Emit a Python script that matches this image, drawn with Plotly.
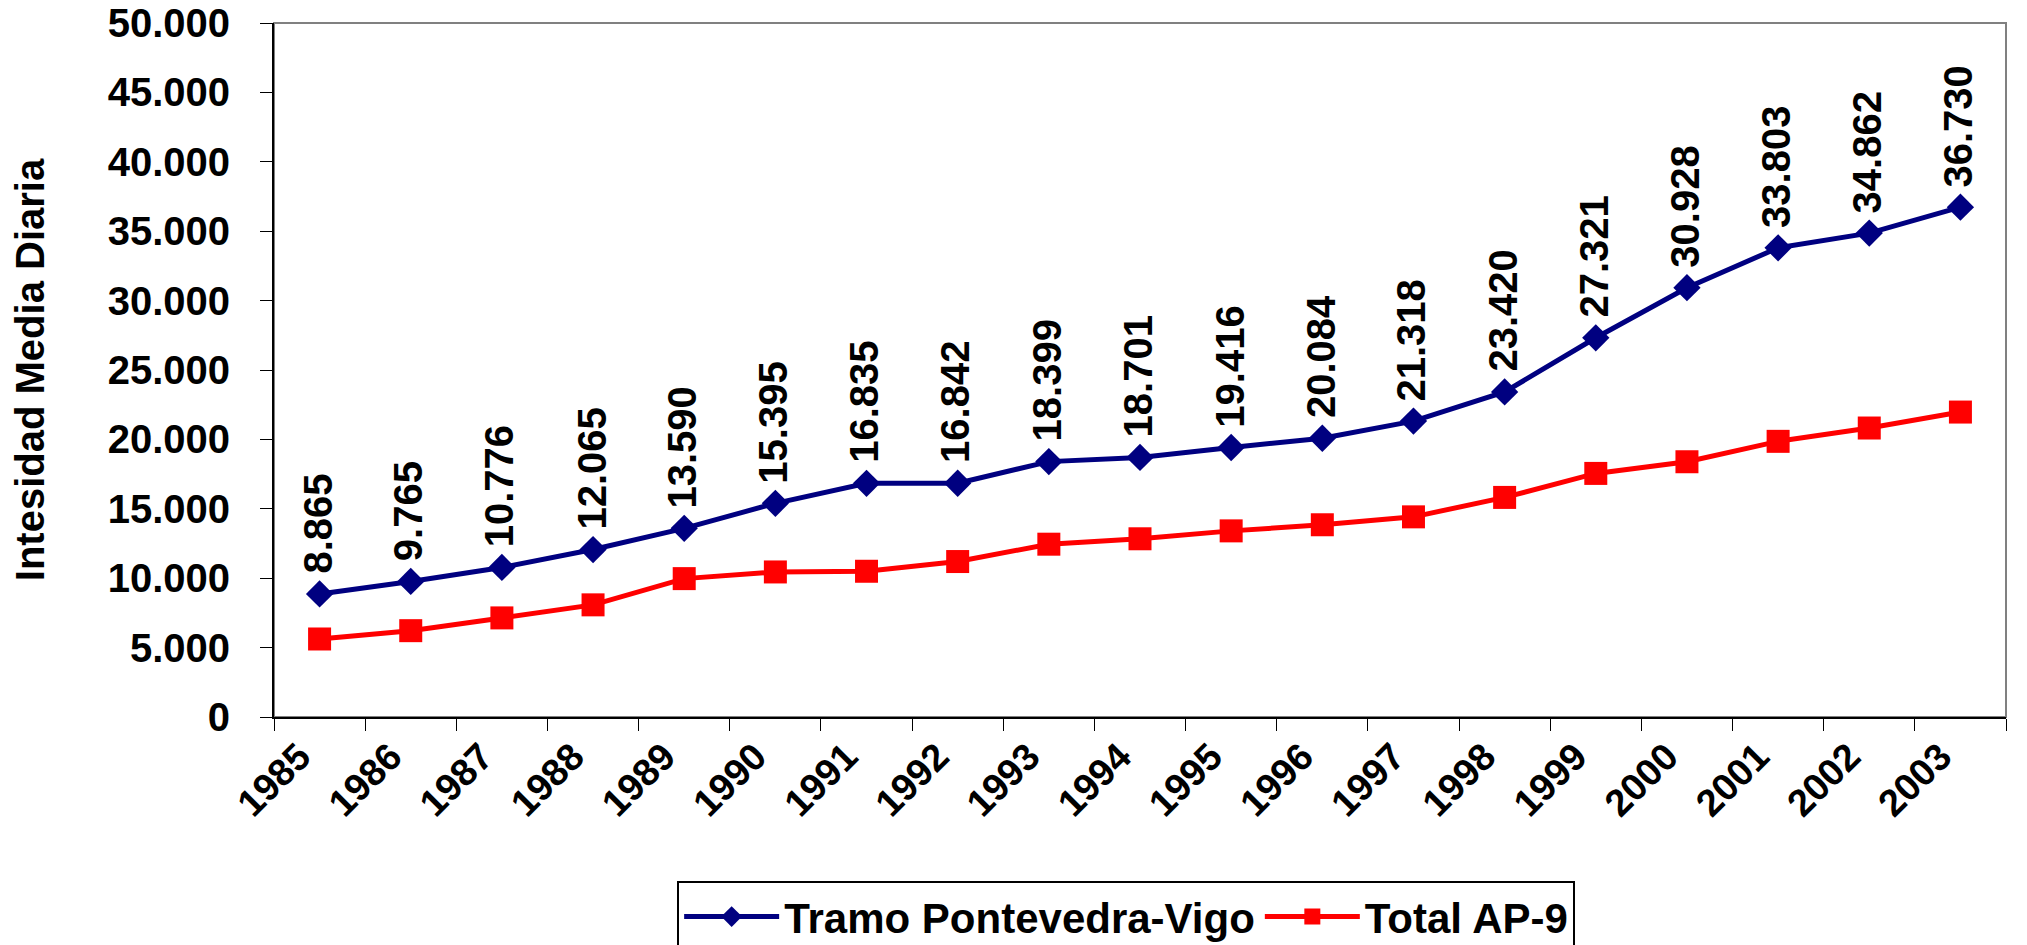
import plotly.graph_objects as go

years = ["1985", "1986", "1987", "1988", "1989", "1990", "1991", "1992", "1993", "1994",
         "1995", "1996", "1997", "1998", "1999", "2000", "2001", "2002", "2003"]
tramo = [8865, 9765, 10776, 12065, 13590, 15395, 16835, 16842, 18399, 18701,
         19416, 20084, 21318, 23420, 27321, 30928, 33803, 34862, 36730]
total = [5620, 6220, 7140, 8080, 9970, 10450, 10500, 11200, 12450, 12840,
         13410, 13850, 14420, 15820, 17550, 18390, 19860, 20820, 21970]
y_ticks = [0, 5000, 10000, 15000, 20000, 25000, 30000, 35000, 40000, 45000, 50000]

FONT = "Arial, 'Liberation Sans', sans-serif"
NAVY = "#000080"
RED = "#FF0000"

fig = go.Figure()
fig.add_trace(go.Scatter(
    x=years, y=tramo, mode="lines+markers", name="Tramo Pontevedra-Vigo",
    line=dict(color=NAVY, width=5),
    marker=dict(symbol="diamond", size=21, color=NAVY),
))
fig.add_trace(go.Scatter(
    x=years, y=total, mode="lines+markers", name="Total AP-9",
    line=dict(color=RED, width=5),
    marker=dict(symbol="square", size=23, color=RED),
))

for i, v in enumerate(tramo):
    fig.add_annotation(
        x=i, y=v, xref="x", yref="y", text=f"{v:,}".replace(",", "."), textangle=-90,
        showarrow=False, yanchor="bottom", xanchor="center", yshift=18, xshift=-2,
        font=dict(family=FONT, size=40, color="black", weight="bold"),
    )

# plot-area border (top/right grey)
fig.add_shape(type="rect", xref="paper", yref="paper", x0=0, y0=0, x1=1, y1=1,
              line=dict(color="#808080", width=2), layer="below")

# page body has an 8px default margin; compensate so the plot sits where the reference has it
fig.update_layout(
    width=2019, height=937,
    margin=dict(l=266, r=21, t=15, b=228, autoexpand=False),
    paper_bgcolor="white", plot_bgcolor="white",
    separators=",.",
    showlegend=True,
    hovermode=False,
    font=dict(family=FONT, color="black"),
    legend=dict(
        orientation="h", x=0.492, xanchor="center", y=-0.236, yanchor="top",
        bordercolor="black", borderwidth=2, bgcolor="white",
        font=dict(family=FONT, size=42, color="black", weight="bold"),
        itemwidth=95, tracegroupgap=0,
    ),
    xaxis=dict(
        type="category", tickangle=-45, tickson="boundaries",
        ticks="outside", ticklen=12, tickcolor="black", tickwidth=1,
        showline=True, linecolor="black", linewidth=2,
        showgrid=False, zeroline=False,
        ticklabelshift=-20,
        tickfont=dict(family=FONT, size=38, color="black", weight="bold"),
        range=[-0.5, len(years) - 0.5],
    ),
    yaxis=dict(
        range=[0, 50000], tickvals=y_ticks, tickformat=",d",
        ticks="outside", ticklen=12, tickcolor="black", tickwidth=1,
        showline=True, linecolor="black", linewidth=2,
        showgrid=False, zeroline=False,
        ticklabelstandoff=22, ticklabeloverflow="allow",
        tickfont=dict(family=FONT, size=40, color="black", weight="bold"),
        title=dict(text="Intesidad Media Diaria", standoff=57,
                   font=dict(family=FONT, size=40, color="black", weight="bold")),
        automargin=False,
    ),
)

fig.write_html("out.html")
